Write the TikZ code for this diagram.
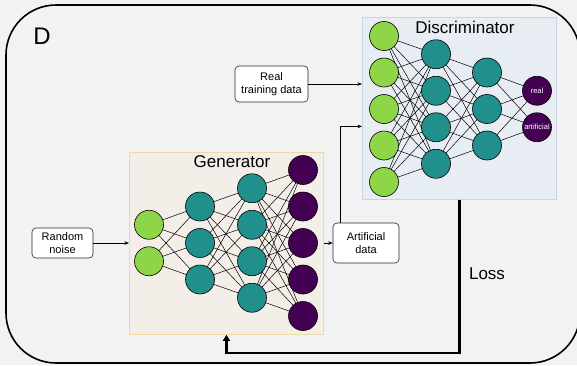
\documentclass[tikz,border=0pt]{standalone}
\usepackage{fontspec}
\setmainfont{Liberation Sans}
\usetikzlibrary{arrows.meta}

\definecolor{canvas}{HTML}{F2F2F2}
\definecolor{ingreen}{HTML}{8ED647}
\definecolor{hidteal}{HTML}{21908C}
\definecolor{outpurple}{HTML}{440154}
\definecolor{genfill}{HTML}{F4EEE8}
\definecolor{genedge}{HTML}{EFD9A5}
\definecolor{disfill}{HTML}{E8ECF3}
\definecolor{disedge}{HTML}{C8D5E8}

% panels at the back, links above them, neurons on top
\pgfdeclarelayer{panels}
\pgfdeclarelayer{links}
\pgfsetlayers{panels,links,main}

\begin{document}
\begin{tikzpicture}[x=1pt,y=-1pt,
  neuron/.style={circle,draw=black,line width=0.6pt,minimum size=29pt,inner sep=0pt},
  inlayer/.style={neuron,fill=ingreen},
  hidlayer/.style={neuron,fill=hidteal},
  outlayer/.style={neuron,fill=outpurple,text=white,font=\fontsize{7.5}{8}\selectfont},
  panel/.style={line width=0.8pt,minimum width=194pt,minimum height=182pt,anchor=north west,inner sep=0pt},
  databox/.style={draw=black!85,fill=white,rounded corners=4pt,line width=0.6pt,align=center,
                  inner sep=0pt,font=\fontsize{11}{13}\selectfont},
  title/.style={font=\fontsize{17}{18}\selectfont},
  link/.style={line width=0.5pt},
  flow/.style={line width=0.7pt,-{Stealth[length=4.5pt,width=3.5pt]}},
  lossline/.style={line width=2.6pt,-{Triangle[length=6pt,width=7pt]}}]

% background and outer frame
\useasboundingbox (0,0) rectangle (577,365);
\begin{pgfonlayer}{panels}
\fill[canvas] (0,0) rectangle (577,365);
\clip (0,0) rectangle (577,365);
\draw[line width=1.6pt,rounded corners=50pt] (6,5) rectangle (580,363);
\node[panel,draw=genedge,fill=genfill] (gen) at (129,152) {};
\node[panel,draw=disedge,fill=disfill] (dis) at (362,17) {};
\end{pgfonlayer}
\node[font=\fontsize{24}{24}\selectfont] (lab) at (42,36) {D};
\node[title] (gentitle) at (232,162) {Generator};
\node[title] (distitle) at (465,27) {Discriminator};

% generator network: layers of 2, 3, 4, 5 neurons
\foreach \i in {1,2} \node[inlayer] (ga\i) at (149,{243+(\i-1.5)*36.5}) {};
\foreach \i in {1,...,3} \node[hidlayer] (gb\i) at (200,{243+(\i-2)*36.5}) {};
\foreach \i in {1,...,4} \node[hidlayer] (gc\i) at (252,{243+(\i-2.5)*36.5}) {};
\foreach \i in {1,...,5} \node[outlayer] (gd\i) at (303,{243+(\i-3)*36.5}) {};

% discriminator network: layers of 5, 4, 3, 2 neurons
\foreach \i in {1,...,5} \node[inlayer] (da\i) at (384,{109+(\i-3)*36.5}) {};
\foreach \i in {1,...,4} \node[hidlayer] (db\i) at (436,{109+(\i-2.5)*36.5}) {};
\foreach \i in {1,...,3} \node[hidlayer] (dc\i) at (487,{109+(\i-2)*36.5}) {};
\node[outlayer] (dd1) at (537,90.75) {real};
\node[outlayer] (dd2) at (537,127.25) {artificial};

% fully connected links between neighbouring layers
\begin{pgfonlayer}{links}
\foreach \a in {1,2} \foreach \b in {1,...,3} \draw[link] (ga\a.center) -- (gb\b.center);
\foreach \a in {1,...,3} \foreach \b in {1,...,4} \draw[link] (gb\a.center) -- (gc\b.center);
\foreach \a in {1,...,4} \foreach \b in {1,...,5} \draw[link] (gc\a.center) -- (gd\b.center);
\foreach \a in {1,...,5} \foreach \b in {1,...,4} \draw[link] (da\a.center) -- (db\b.center);
\foreach \a in {1,...,4} \foreach \b in {1,...,3} \draw[link] (db\a.center) -- (dc\b.center);
\foreach \a in {1,...,3} \foreach \b in {1,2} \draw[link] (dc\a.center) -- (dd\b.center);
\end{pgfonlayer}

% data boxes
\node[databox,minimum width=61pt,minimum height=30pt] (noise) at (62.5,243) {Random\\noise};
\node[databox,minimum width=66pt,minimum height=40pt] (art) at (366,243) {Artificial\\data};
\node[databox,minimum width=73pt,minimum height=36pt] (real) at (271.5,84) {Real\\training data};

% data flow
\draw[flow] (noise.east) -- (gen.west |- noise.east);
\draw[flow] (gen.east |- art.west) -- (art.west);
\draw[flow] (real.east) -- (dis.west |- real.east);
\draw[flow] ([xshift=8pt]art.north west) |- ([yshift=-18pt]dis.west);

% loss feedback
\draw[lossline] (dis.south) -- ++(0,153) -| (gen.south);
\node[font=\fontsize{17}{18}\selectfont] (loss) at (487,274) {Loss};
\end{tikzpicture}
\end{document}
